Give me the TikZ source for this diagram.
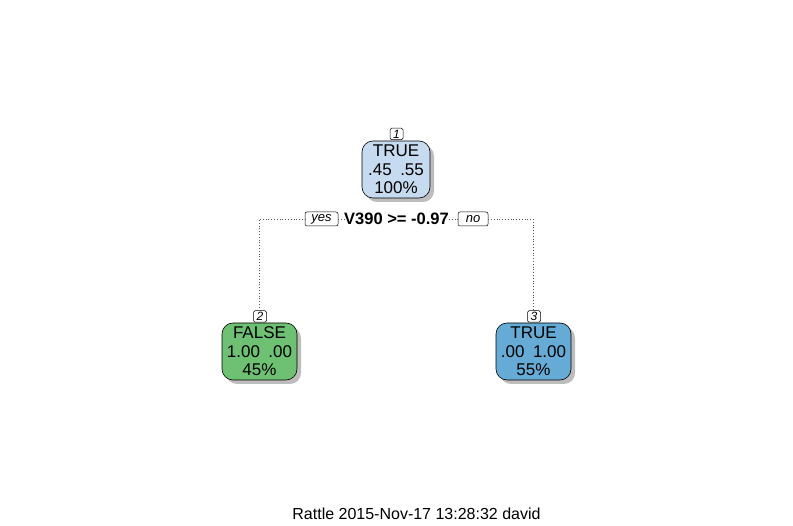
\documentclass[tikz,border=0pt]{standalone}
\usepackage{fontspec}
\setmainfont{Liberation Sans}
\usetikzlibrary{shadows}
\definecolor{nblue}{HTML}{C6DBEF}
\definecolor{ngreen}{HTML}{6EC173}
\definecolor{nmid}{HTML}{66ABD6}
\definecolor{shad}{HTML}{BDBDBD}
\begin{document}
\begin{tikzpicture}[x=1pt,y=-1pt,
  leaf/.style={draw=black, line width=0.6pt, rounded corners=11pt, minimum width=75pt, minimum height=57pt,
     inner sep=0pt, align=center, font=\fontsize{17}{18.5}\selectfont,
     drop shadow={shadow xshift=4pt, shadow yshift=-4pt, fill=shad, opacity=1}},
  idbox/.style={draw=black, line width=0.5pt, rounded corners=1.5pt, fill=white, inner sep=0pt,
     minimum width=13pt, minimum height=11.5pt, font=\fontsize{12}{12}\selectfont\itshape},
  yn/.style={draw=black, line width=0.5pt, rounded corners=2pt, fill=white, inner sep=0pt,
     minimum width=33pt, minimum height=14pt, font=\fontsize{13}{13}\selectfont\itshape},
  conn/.style={dotted, line width=0.8pt, gray!70!black}
]
\useasboundingbox (0,0) rectangle (793,526);
\node[leaf, fill=nblue, minimum width=68pt] (n1) at (396,169.5) {TRUE\\.45\enspace.55\\100\%};
\node[idbox] (l1) at (396.5,134) {1};
\node[leaf, fill=ngreen] (n2) at (259.5,351.5) {FALSE\\1.00\enspace.00\\45\%};
\node[idbox] (l2) at (260,316.5) {2};
\node[leaf, fill=nmid] (n3) at (533.5,351.5) {TRUE\\.00\enspace1.00\\55\%};
\node[idbox] (l3) at (534,316.5) {3};
\coordinate (cl) at (259,219);
\coordinate (cr) at (533,219);
\node[font=\fontsize{16.5}{16.5}\selectfont\bfseries, inner sep=0pt] (sp) at (396.5,219) {V390 >= -0.97};
\node[yn] (yes) at (321.5,219) {yes};
\node[yn, minimum width=30pt] (no) at (473,219) {no};
\draw[conn] (l2.north -| cl) -- (cl) -- (yes.west);
\draw[conn] (yes.east) -- (sp.west);
\draw[conn] (sp.east) -- (no.west);
\draw[conn] (no.east) -- (cr) -- (l3.north -| cr);
\node[font=\fontsize{16}{16}\selectfont, inner sep=0pt] (ft) at (416.5,514) {Rattle 2015-Nov-17 13:28:32 david};
\end{tikzpicture}
\end{document}
